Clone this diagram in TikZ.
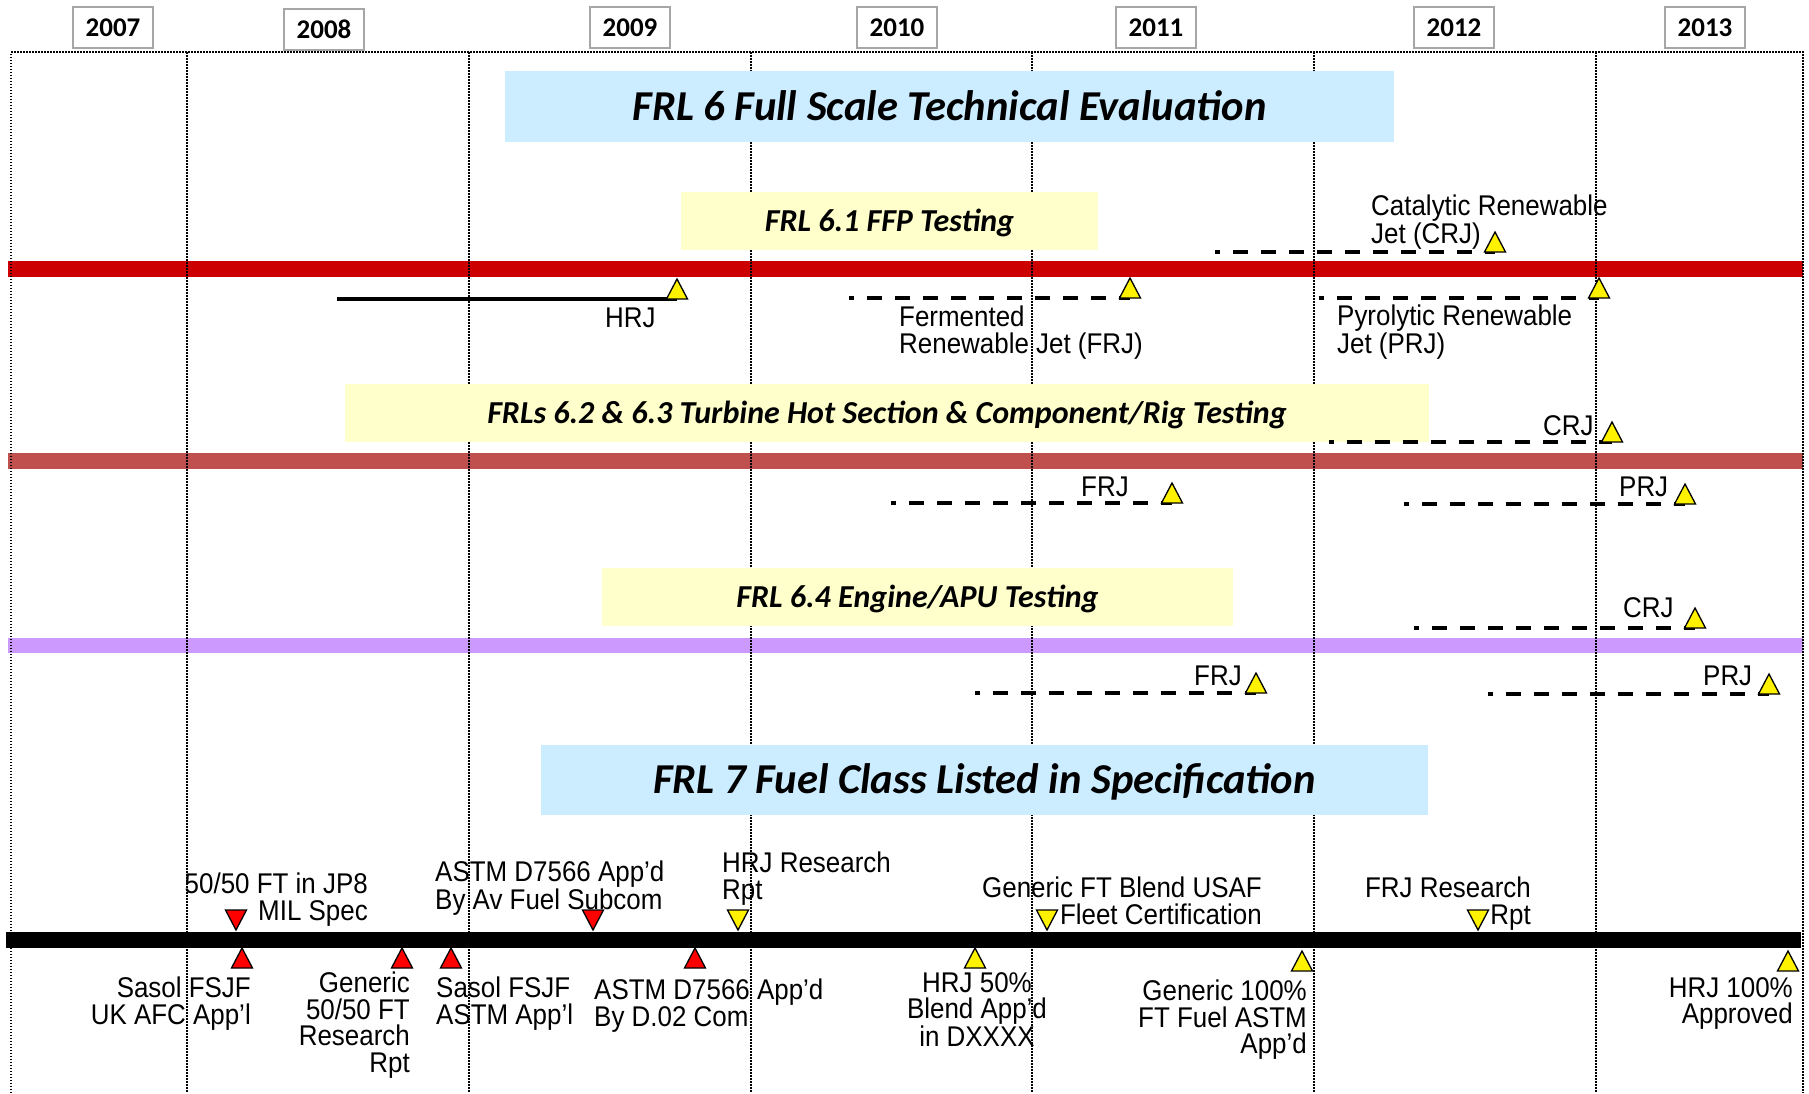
\documentclass[tikz,border=0pt]{standalone}
\usepackage{fontspec}
\setmainfont{Liberation Sans}
\newfontfamily\lblfont[FakeStretch=0.91]{Liberation Sans}
\newfontfamily\bannerfont{Carlito}
\usepackage{xcolor}
\definecolor{eval-bg}{HTML}{CCECFF}
\definecolor{test-bg}{HTML}{FFFFCC}
\definecolor{ffp-bar}{HTML}{CC0000}
\definecolor{rig-bar}{HTML}{C0504D}
\definecolor{apu-bar}{HTML}{CC99FF}
\definecolor{year-edge}{HTML}{A6A6A6}

\begin{document}
\begin{tikzpicture}[x=1pt, y=-1pt,
        every node/.style={inner sep=0pt},
        yearbox/.style={draw=year-edge, line width=2pt, fill=white,
            minimum width=80, minimum height=41,
            font=\bannerfont\bfseries\fontsize{27}{30}\selectfont},
        bigbanner/.style={fill=eval-bg, text height=27.4, text depth=0,
            font=\bannerfont\bfseries\itshape\fontsize{42.6}{48}\selectfont},
        subbanner/.style={fill=test-bg, text height=20.6, text depth=0,
            font=\bannerfont\bfseries\itshape\fontsize{32}{36}\selectfont},
        lbl/.style={font=\lblfont\fontsize{28.5}{26.5}\selectfont},
        gridline/.style={line width=1.6pt, dash pattern=on 1.5pt off 1.5pt},
        track/.style={line width=4pt, dash pattern=on 15pt off 13pt, dash phase=10pt},
        pics/upflag/.style={code={\draw[line width=1.3pt, fill=#1]
            (-10.5,0) -- (10.5,0) -- (0,-20) -- cycle;}},
        pics/downflag/.style={code={\draw[line width=1.3pt, fill=#1]
            (-10.5,-20) -- (10.5,-20) -- (0,0) -- cycle;}}]
  \useasboundingbox (0,0) rectangle (1809,1093);

  % phase bars
  \draw[ffp-bar, line width=16pt] (8,269) -- (1803,269);
  \draw[rig-bar, line width=16pt] (8,461) -- (1803,461);
  \draw[apu-bar, line width=15pt] (8,645.5) -- (1803,645.5);
  \draw[black, line width=16pt] (6,940) -- (1801,940);

  % year columns
  \draw[gridline] (11,1093) -- (11,52) -- (1803,52) -- (1803,1093);
  \foreach \x in {187,469,751,1032,1314,1596}
    \draw[gridline] (\x,52) -- (\x,1093);
  \node[yearbox] (y2007) at (113,27.5) {2007};
  \node[yearbox] (y2008) at (324,29) {2008};
  \node[yearbox] (y2009) at (630,27.5) {2009};
  \node[yearbox] (y2010) at (897,27.5) {2010};
  \node[yearbox] (y2011) at (1156,27.5) {2011};
  \node[yearbox] (y2012) at (1454,27.5) {2012};
  \node[yearbox] (y2013) at (1705,27.5) {2013};

  % readiness levels
  \node[bigbanner, minimum width=889, minimum height=71] (frl6) at (949.5,106.5)
    {FRL 6 Full Scale Technical Evaluation};
  \node[subbanner, minimum width=417, minimum height=58] (frl61) at (889.5,221)
    {FRL 6.1 FFP Testing};
  \node[subbanner, minimum width=1084, minimum height=58] (frl62) at (887,413)
    {FRLs 6.2 \& 6.3 Turbine Hot Section \& Component/Rig Testing};
  \node[subbanner, minimum width=631, minimum height=58] (frl64) at (917.5,597)
    {FRL 6.4 Engine/APU Testing};
  \node[bigbanner, minimum width=887, minimum height=70] (frl7) at (984.5,780)
    {FRL 7 Fuel Class Listed in Specification};

  % FFP testing
  \coordinate (hrjA0) at (337,299);  \coordinate (hrjA) at (677,299);
  \coordinate (frjA0) at (849,298);  \coordinate (frjA) at (1130,298);
  \coordinate (crjA0) at (1215,252); \coordinate (crjA) at (1495,252);
  \coordinate (prjA0) at (1319,298); \coordinate (prjA) at (1599,298);
  \draw[line width=3.5pt] (hrjA0) -- (hrjA);
  \draw[track] (frjA0) -- (frjA);
  \draw[track] (crjA0) -- (crjA);
  \draw[track] (prjA0) -- (prjA);
  \pic at (hrjA) {upflag=yellow};
  \pic at (frjA) {upflag=yellow};
  \pic at (crjA) {upflag=yellow};
  \pic at (prjA) {upflag=yellow};
  \node[lbl, anchor=north west] (hrjAlbl) at (605,308) {HRJ};
  \node[lbl, anchor=north west, align=left] (frjAlbl) at (899,306)
    {Fermented\\Renewable Jet (FRJ)};
  \node[lbl, anchor=north west, align=left] (crjAlbl) at (1371,195)
    {Catalytic Renewable\\Jet (CRJ)};
  \node[lbl, anchor=north west, align=left] (prjAlbl) at (1337,305)
    {Pyrolytic Renewable\\Jet (PRJ)};

  % hot section and rig testing
  \coordinate (crjB0) at (1329,442); \coordinate (crjB) at (1612,442);
  \coordinate (frjB0) at (891,503);  \coordinate (frjB) at (1172,503);
  \coordinate (prjB0) at (1404,504); \coordinate (prjB) at (1685,504);
  \draw[track] (crjB0) -- (crjB);
  \draw[track] (frjB0) -- (frjB);
  \draw[track] (prjB0) -- (prjB);
  \pic at (crjB) {upflag=yellow};
  \pic at (frjB) {upflag=yellow};
  \pic at (prjB) {upflag=yellow};
  \node[lbl, anchor=north west] (crjBlbl) at (1543,415) {CRJ};
  \node[lbl, anchor=north west] (frjBlbl) at (1081,477) {FRJ};
  \node[lbl, anchor=north west] (prjBlbl) at (1619,477) {PRJ};

  % engine/APU testing
  \coordinate (crjC0) at (1414,628); \coordinate (crjC) at (1695,628);
  \coordinate (frjC0) at (975,693);  \coordinate (frjC) at (1256,693);
  \coordinate (prjC0) at (1488,694); \coordinate (prjC) at (1769,694);
  \draw[track] (crjC0) -- (crjC);
  \draw[track] (frjC0) -- (frjC);
  \draw[track] (prjC0) -- (prjC);
  \pic at (crjC) {upflag=yellow};
  \pic at (frjC) {upflag=yellow};
  \pic at (prjC) {upflag=yellow};
  \node[lbl, anchor=north west] (crjClbl) at (1623,597) {CRJ};
  \node[lbl, anchor=north west] (frjClbl) at (1194,666) {FRJ};
  \node[lbl, anchor=north west] (prjClbl) at (1703,666) {PRJ};

  % specification milestones
  \coordinate (jp8) at (236,930);
  \coordinate (avsub) at (593,930);
  \coordinate (hrjrpt) at (738,930);
  \coordinate (fleet) at (1047,930);
  \coordinate (frjrpt) at (1478,930);
  \coordinate (ukafc) at (242,968);
  \coordinate (ftrpt) at (402,968);
  \coordinate (sasol) at (451,968);
  \coordinate (d02) at (695,968);
  \coordinate (hrj50) at (975,968);
  \coordinate (ft100) at (1302,971);
  \coordinate (hrj100) at (1788,971);
  \pic at (jp8) {downflag=red};
  \pic at (avsub) {downflag=red};
  \pic at (hrjrpt) {downflag=yellow};
  \pic at (fleet) {downflag=yellow};
  \pic at (frjrpt) {downflag=yellow};
  \pic at (ukafc) {upflag=red};
  \pic at (ftrpt) {upflag=red};
  \pic at (sasol) {upflag=red};
  \pic at (d02) {upflag=red};
  \pic at (hrj50) {upflag=yellow};
  \pic at (ft100) {upflag=yellow};
  \pic at (hrj100) {upflag=yellow};
  \node[lbl, anchor=north east, align=right] (jp8lbl) at (368,873)
    {50/50 FT in JP8\\MIL Spec};
  \node[lbl, anchor=north west, align=left] (avsublbl) at (435,861)
    {ASTM D7566 App’d\\By Av Fuel Subcom};
  \node[lbl, anchor=north west, align=left] (hrjrptlbl) at (722,852)
    {HRJ Research\\Rpt};
  \node[lbl, anchor=north east, align=right] (fleetlbl) at (1262,877)
    {Generic FT Blend USAF\\Fleet Certification};
  \node[lbl, anchor=north east, align=right] (frjrptlbl) at (1531,877)
    {FRJ Research\\Rpt};
  \node[lbl, anchor=north east, align=right] (ukafclbl) at (251,977)
    {Sasol FSJF\\UK AFC App’l};
  \node[lbl, anchor=north east, align=right] (ftrptlbl) at (410,972)
    {Generic\\50/50 FT\\Research\\Rpt};
  \node[lbl, anchor=north west, align=left] (sasollbl) at (436,977)
    {Sasol FSJF\\ASTM App’l};
  \node[lbl, anchor=north west, align=left] (d02lbl) at (594,979)
    {ASTM D7566 App’d\\By D.02 Com};
  \node[lbl, anchor=north, align=center] (hrj50lbl) at (977,972)
    {HRJ 50\%\\Blend App’d\\in DXXXX};
  \node[lbl, anchor=north east, align=right] (ft100lbl) at (1307,980)
    {Generic 100\%\\FT Fuel ASTM\\App’d};
  \node[lbl, anchor=north east, align=right] (hrj100lbl) at (1793,977)
    {HRJ 100\%\\Approved};
\end{tikzpicture}
\end{document}
